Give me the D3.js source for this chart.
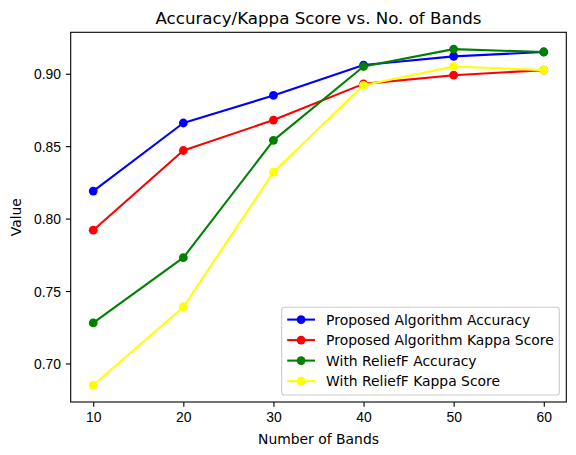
<!DOCTYPE html>
<html>
<head>
<meta charset="utf-8">
<script src="https://cdn.jsdelivr.net/npm/d3@7"></script>
<style>
  body { margin: 0; background: #fff; }
  svg { font-family: "DejaVu Sans", sans-serif; }
  .tick text { font-size: 13.9px; fill: #000; }
  .tick line { stroke: #000; stroke-width: 1.1px; }
  .domain { display: none; }
</style>
</head>
<body>
<div id="chart"></div>
<script>
// data
var bands = [10, 20, 30, 40, 50, 60];
var proposedAccuracy = [0.819, 0.866, 0.885, 0.906, 0.912, 0.915];
var proposedKappa    = [0.792, 0.847, 0.868, 0.893, 0.899, 0.9025];
var reliefAccuracy   = [0.728, 0.773, 0.854, 0.905, 0.917, 0.915];
var reliefKappa      = [0.685, 0.739, 0.832, 0.892, 0.905, 0.9025];
var seriesNames  = ["Proposed Algorithm Accuracy", "Proposed Algorithm Kappa Score",
                    "With ReliefF Accuracy", "With ReliefF Kappa Score"];
var seriesColors = ["blue", "red", "green", "yellow"];
var xTicks = [10, 20, 30, 40, 50, 60];
var yTicks = [0.70, 0.75, 0.80, 0.85, 0.90];

var W = 576, H = 455;
var plot = {left: 70.7, right: 566.3, top: 32.3, bottom: 402};

var series = [proposedAccuracy, proposedKappa, reliefAccuracy, reliefKappa].map(function(vals, i) {
	return {
		name: seriesNames[i],
		color: seriesColors[i],
		points: vals.map(function(v, j) { return {x: bands[j], y: v}; })
	};
});

// matplotlib style 5% margins
var xMin = d3.min(bands), xMax = d3.max(bands);
var xPad = (xMax - xMin) * 0.05;
var allY = [].concat(proposedAccuracy, proposedKappa, reliefAccuracy, reliefKappa);
var yMin = d3.min(allY), yMax = d3.max(allY);
var yPad = (yMax - yMin) * 0.05;

var x = d3.scaleLinear().domain([xMin - xPad, xMax + xPad]).range([plot.left, plot.right]);
var y = d3.scaleLinear().domain([yMin - yPad, yMax + yPad]).range([plot.bottom, plot.top]);

var svg = d3.select("#chart").append("svg")
	.attr("width", W)
	.attr("height", H);

// axes
svg.append("g")
	.attr("transform", "translate(0," + plot.bottom + ")")
	.call(d3.axisBottom(x).tickValues(xTicks).tickSize(4.86).tickPadding(4.86).tickFormat(d3.format("d")))
	.selectAll("text").attr("dy", "0.75em");

svg.append("g")
	.attr("transform", "translate(" + plot.left + ",0)")
	.call(d3.axisLeft(y).tickValues(yTicks).tickSize(4.86).tickPadding(4.86).tickFormat(d3.format(".2f")))
	.selectAll("text").attr("dy", "0.36em");

// lines and markers
var line = d3.line().x(function(d) { return x(d.x); }).y(function(d) { return y(d.y); });

series.forEach(function(s) {
	svg.append("path")
		.datum(s.points)
		.attr("fill", "none")
		.attr("stroke", s.color)
		.attr("stroke-width", 2.08)
		.attr("stroke-linejoin", "round")
		.attr("d", line);
	svg.selectAll(null)
		.data(s.points).enter()
		.append("circle")
		.attr("cx", function(d) { return x(d.x); })
		.attr("cy", function(d) { return y(d.y); })
		.attr("r", 4.4)
		.attr("fill", s.color);
});

// spines
svg.append("rect")
	.attr("x", plot.left)
	.attr("y", plot.top)
	.attr("width", plot.right - plot.left)
	.attr("height", plot.bottom - plot.top)
	.attr("fill", "none")
	.attr("stroke", "#000")
	.attr("stroke-width", 1.1);

// title and labels
svg.append("text")
	.attr("x", (plot.left + plot.right) / 2)
	.attr("y", 24)
	.attr("text-anchor", "middle")
	.style("font-size", "16.67px")
	.text("Accuracy/Kappa Score vs. No. of Bands");

svg.append("text")
	.attr("x", (plot.left + plot.right) / 2)
	.attr("y", 444)
	.attr("text-anchor", "middle")
	.style("font-size", "13.9px")
	.text("Number of Bands");

svg.append("text")
	.attr("transform", "translate(21," + ((plot.top + plot.bottom) / 2) + ") rotate(-90)")
	.attr("text-anchor", "middle")
	.style("font-size", "13.9px")
	.text("Value");

// legend, lower right
var legend = {left: 281.7, top: 307.3, right: 559.3, bottom: 395, row: 20.5};
var lg = svg.append("g");
lg.append("rect")
	.attr("x", legend.left)
	.attr("y", legend.top)
	.attr("width", legend.right - legend.left)
	.attr("height", legend.bottom - legend.top)
	.attr("rx", 2.8)
	.attr("fill", "#fff")
	.attr("fill-opacity", 0.8)
	.attr("stroke", "#cccccc")
	.attr("stroke-width", 1.1);

var items = lg.selectAll("g.item")
	.data(series).enter()
	.append("g")
	.attr("class", "item")
	.attr("transform", function(d, i) { return "translate(" + legend.left + "," + (legend.top + 12.3 + i * legend.row) + ")"; });

items.append("line")
	.attr("x1", 5.5).attr("x2", 33.3)
	.attr("stroke", function(d) { return d.color; })
	.attr("stroke-width", 2.08);
items.append("circle")
	.attr("cx", 19.4)
	.attr("r", 4.4)
	.attr("fill", function(d) { return d.color; });
items.append("text")
	.attr("x", 44.4)
	.attr("dy", "0.36em")
	.style("font-size", "13.9px")
	.text(function(d) { return d.name; });
</script>
</body>
</html>
